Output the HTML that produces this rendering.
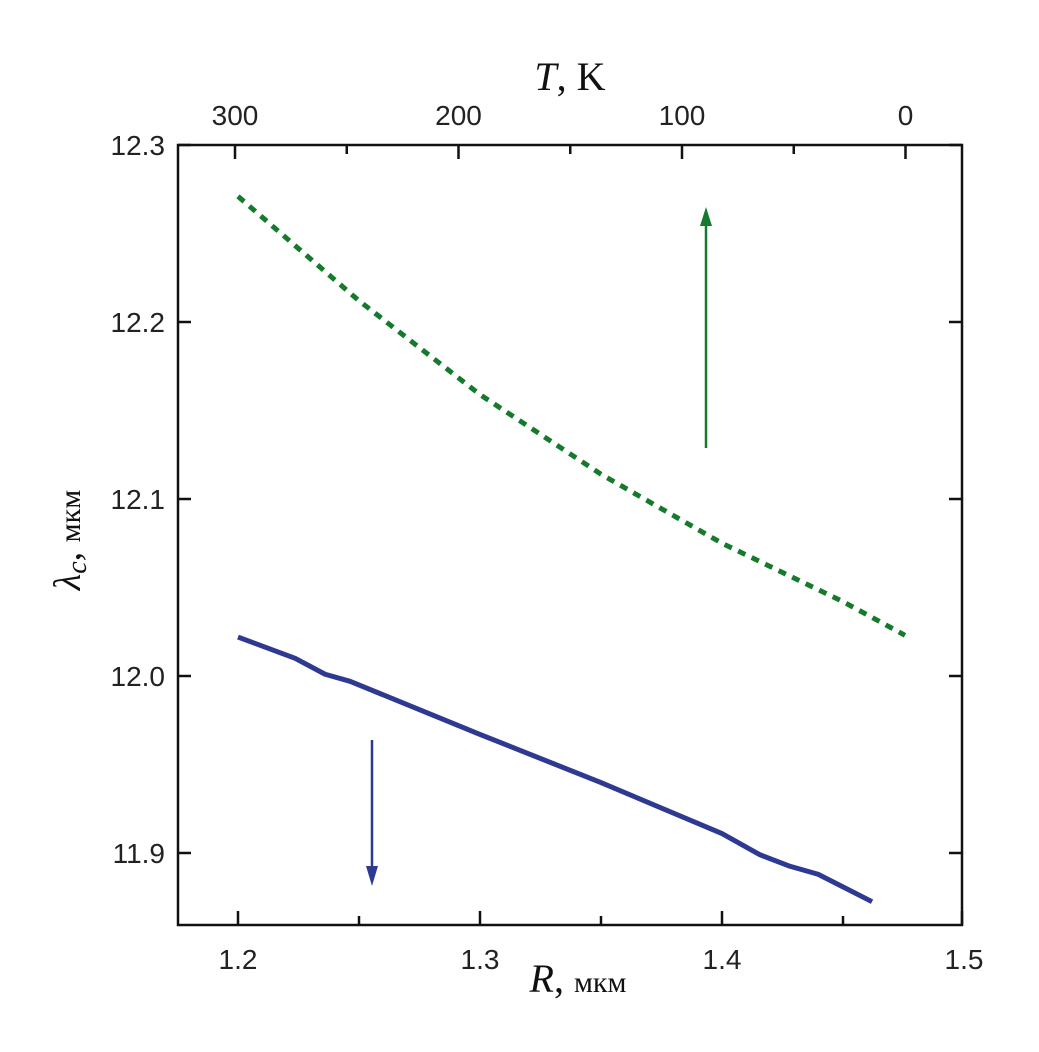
<!DOCTYPE html>
<html><head><meta charset="utf-8"><style>
body{margin:0;background:#fff;}
svg{display:block;}
.tk{font-family:"Liberation Sans",Arial,sans-serif;font-size:28px;fill:#222;}
.ti{font-family:"Liberation Serif",serif;fill:#111;}
</style></head><body>
<svg id="chart" width="1039" height="1052" viewBox="0 0 1039 1052" xmlns="http://www.w3.org/2000/svg">
<g id="axes"></g>
<g id="series"></g>
<text class="ti" x="570" y="90" font-size="40" text-anchor="middle"><tspan font-style="italic">T</tspan>, K</text>
<text class="ti" x="578" y="992" font-size="40" text-anchor="middle"><tspan font-style="italic">R</tspan>, <tspan font-size="30">мкм</tspan></text>
<text class="ti" transform="translate(80,540) rotate(-90)" font-size="38" text-anchor="middle"><tspan font-style="italic">λ</tspan><tspan font-style="italic" font-size="28" dy="6">c</tspan><tspan dy="-6">,  </tspan><tspan font-size="30">мкм</tspan></text>
<line x1="706" y1="448" x2="706" y2="222" stroke="#167a2c" stroke-width="2.5"/>
<polygon points="706,207 700,226 712,226" fill="#167a2c"/>
<line x1="372" y1="740" x2="372" y2="870" stroke="#2e3a92" stroke-width="2.5"/>
<polygon points="372,886 366,866 378,866" fill="#2e3a92"/>
</svg>
<script>
const xTicks = [1.2, 1.3, 1.4, 1.5];
const yTicks = [11.9, 12.0, 12.1, 12.2, 12.3];
const tTicks = [300, 200, 100, 0];
const greenR = [1.2, 1.25, 1.3, 1.35, 1.4, 1.45, 1.4756];
const greenL = [12.271, 12.212, 12.159, 12.114, 12.075, 12.042, 12.023];
const blueR = [1.2, 1.2236, 1.236, 1.2463, 1.3, 1.3496, 1.4, 1.4157, 1.4281, 1.4397, 1.462];
const blueL = [12.022, 12.010, 12.001, 11.997, 11.967, 11.940, 11.911, 11.899, 11.8925, 11.888, 11.8725];

const L=178,R=962,T=145,B=925;
const xs=r=>238+(r-1.2)*2420;
const ys=v=>145+(12.3-v)*1770;
const ts=t=>235+(300-t)*2.235;
const NS='http://www.w3.org/2000/svg';
function mk(tag,attrs,parent,txt){const e=document.createElementNS(NS,tag);for(const k in attrs)e.setAttribute(k,attrs[k]);if(txt!==undefined)e.textContent=txt;parent.appendChild(e);return e;}
const ax=document.getElementById('axes');
const box=mk('rect',{x:L,y:T,width:R-L,height:B-T,fill:'none',stroke:'#111','stroke-width':2.5},ax);


for(let i=0;i<xTicks.length;i++){const v=xTicks[i];const x=Math.min(xs(v),R);
 const ln=mk('line',{x1:x,y1:B,x2:x,y2:B-14,stroke:'#111','stroke-width':2.5},ax);
 
 
 if(i<xTicks.length-1){const m=mk('line',{x1:xs(v+0.05),y1:B,x2:xs(v+0.05),y2:B-9,stroke:'#111','stroke-width':2.5},ax);
  
  }
 const t=mk('text',{x:xs(v),y:B+44,'text-anchor':'middle',class:'tk'},ax,v.toFixed(1));
 
 }
for(let i=0;i<tTicks.length;i++){const v=tTicks[i];const x=ts(v);
 const ln=mk('line',{x1:x,y1:T,x2:x,y2:T+14,stroke:'#111','stroke-width':2.5},ax);
 
 
 if(i<tTicks.length-1){const m=mk('line',{x1:ts(v-50),y1:T,x2:ts(v-50),y2:T+9,stroke:'#111','stroke-width':2.5},ax);
  
  }
 const t=mk('text',{x:x,y:T-20,'text-anchor':'middle',class:'tk'},ax,String(v));
 
 }
for(const v of yTicks){const y=ys(v);
 const a=mk('line',{x1:L,y1:y,x2:L+13,y2:y,stroke:'#111','stroke-width':2.5},ax);
 
 
 const b=mk('line',{x1:R,y1:y,x2:R-13,y2:y,stroke:'#111','stroke-width':2.5},ax);
 
 
 const t=mk('text',{x:L-13,y:y+10,'text-anchor':'end',class:'tk'},ax,v.toFixed(1));
 
 }
const sg=document.getElementById('series');
const gp=mk('polyline',{points:greenR.map((r,i)=>xs(r)+','+ys(greenL[i])).join(' '),fill:'none',stroke:'#167a2c','stroke-width':5,'stroke-dasharray':'8,7'},sg);


const bp=mk('polyline',{points:blueR.map((r,i)=>xs(r)+','+ys(blueL[i])).join(' '),fill:'none',stroke:'#2e3a92','stroke-width':5,'stroke-linejoin':'round'},sg);


</script>
</body></html>
